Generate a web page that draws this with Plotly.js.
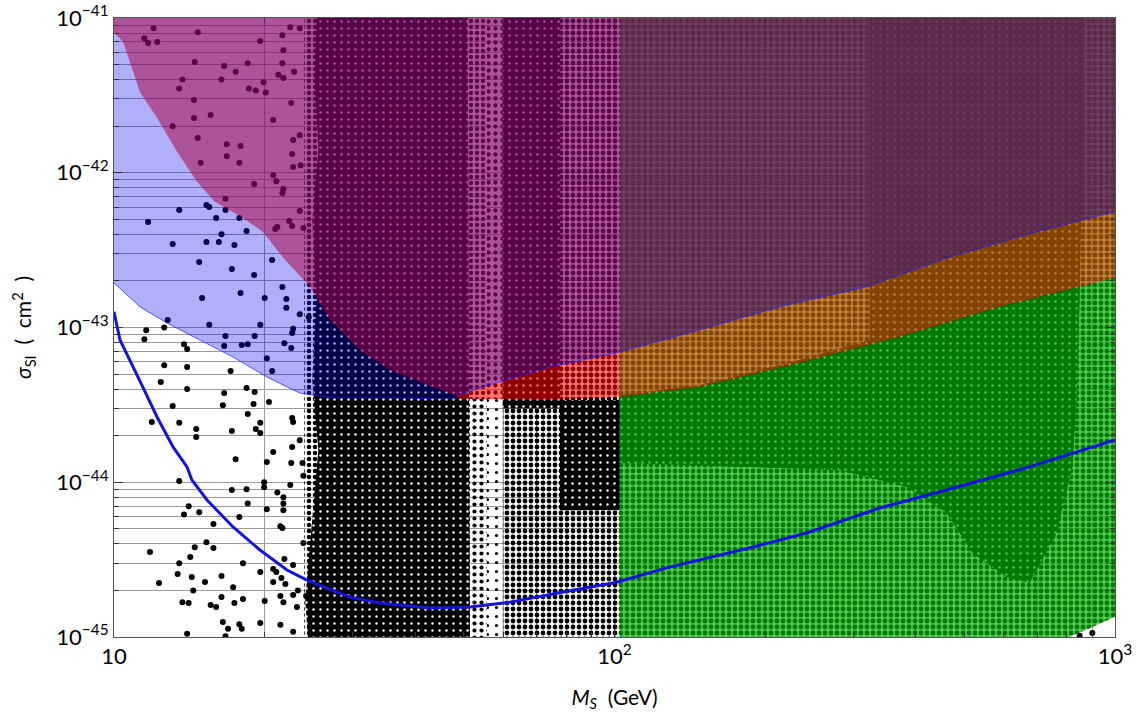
<!DOCTYPE html>
<html>
<head>
<meta charset="utf-8">
<script src="https://cdn.plot.ly/plotly-3.0.1.min.js"></script>
<style>
  html, body { margin: 0; padding: 0; background: #ffffff; }
  #chart { width: 1136px; height: 712px; }
</style>
</head>
<body>
<div id="chart"></div>
<script>
// Scalar singlet dark matter: spin-independent cross-section vs mass.

// ---- axis ticks ----
const massTicks = [10, 100, 1000];
const massTickText = ['10', '10<sup>2</sup>', '10<sup>3</sup>'];
const sigmaTicks = [1e-45, 1e-44, 1e-43, 1e-42, 1e-41];
const sigmaTickText = ['10<sup>\u221245</sup>', '10<sup>\u221244</sup>', '10<sup>\u221243</sup>', '10<sup>\u221242</sup>', '10<sup>\u221241</sup>'];
const minorDigits = [2, 3, 4, 5, 6, 7, 8, 9];

// ---- projected sensitivity curve (blue line) ----
const curveMass = [10, 10.28, 11.42, 12.19, 13.12, 13.99, 14.31, 15.34, 17.29, 19.57, 22.16, 24.29, 26.63, 29.6, 33.98, 42.76, 51.4, 61.8, 76.7, 101, 128.8, 186, 242, 339, 461, 675, 1000];
const curveSigma = [1.265e-43, 8.3e-44, 4.12e-44, 2.64e-44, 1.69e-44, 1.256e-44, 1.035e-44, 7.68e-45, 5.14e-45, 3.65e-45, 2.71e-45, 2.33e-45, 2.07e-45, 1.81e-45, 1.66e-45, 1.54e-45, 1.56e-45, 1.68e-45, 1.92e-45, 2.26e-45, 2.83e-45, 3.76e-45, 4.70e-45, 6.82e-45, 8.91e-45, 1.256e-44, 1.875e-44];

// ---- upper exclusion boundary (magenta region lies above it) ----
const upperMass = [10, 10.42, 11.27, 12.19, 13.37, 14.65, 15.91, 18.10, 19.83, 21.78, 24.66, 27.0, 31.0, 35.6, 41.4, 48.4, 54.6, 63.8, 74.3, 86.4, 102.4, 148.0, 213.8, 319, 467, 684, 1000];
const upperSigma = [8.1e-42, 7.0e-42, 3.3e-42, 2.26e-42, 1.36e-42, 8.7e-43, 6.46e-43, 5.1e-43, 4.14e-43, 2.81e-43, 1.83e-43, 1.12e-43, 7.14e-44, 5.31e-44, 4.37e-44, 3.61e-44, 4.12e-44, 4.79e-44, 5.55e-44, 6.16e-44, 6.94e-44, 9.63e-44, 1.36e-43, 1.83e-43, 2.85e-43, 4.08e-43, 5.6e-43];

// ---- lower exclusion boundary (blue / red bands lie above it) ----
const lowerMass = [10, 11.27, 12.75, 14.85, 17.3, 20.2, 23.5, 27.4, 37.2, 48.4, 74.3, 102.4, 148, 234.4, 371, 588, 1000];
const lowerSigma = [1.94e-43, 1.36e-43, 1.07e-43, 8.29e-44, 6.44e-44, 4.79e-44, 3.77e-44, 3.5e-44, 3.5e-44, 3.45e-44, 3.4e-44, 3.55e-44, 4.12e-44, 5.89e-44, 8.67e-44, 1.36e-43, 2.09e-43];
// indices where the boundaries touch (48.4 GeV) and where the heavy column starts (102.4 GeV)
const upperMeet = 15, lowerMeet = 9;
const upperSplit = 20, lowerSplit = 11;

// ---- corner of the heavy column left uncovered (bottom right) ----
const cornerMass = [1000, 811];
const cornerSigma = [1.35e-45, 1e-45];
const columnMass = 102.4;

// ---- scan point clouds: outlines of the densely populated areas ----
const cloudA_M = [25.4, 50.9, 51.4, 24.4, 24.1, 24.9, 25.6, 24.9, 25.4, 24.9, 25.6, 25.2];
const cloudA_S = [1e-41, 1e-41, 1e-45, 1e-45, 1.73e-45, 5.7e-45, 1.62e-44, 4.58e-44, 1.51e-43, 4.95e-43, 1.40e-42, 3.97e-42];
const cloudB_M = [59.8, 77.8, 77.8, 102.4, 102.4, 77.8, 77.8, 59.8];
const cloudB_S = [1e-41, 1e-41, 3.4e-44, 3.4e-44, 6.6e-45, 6.6e-45, 3.0e-44, 3.0e-44];
const cloudC_M = [323, 869, 850, 838, 822, 764, 675, 607, 519, 461, 383, 282, 102.4, 102.4, 148, 234, 323];
const cloudC_S = [1e-41, 1e-41, 1.51e-43, 3.4e-44, 1.25e-44, 4.69e-45, 2.23e-45, 2.44e-45, 3.49e-45, 6.33e-45, 9.31e-45, 1.2e-44, 1.33e-44, 3.66e-44, 4.25e-44, 6.16e-44, 8.29e-44];
// moderately populated areas
const haloA_M = [24.0, 51.4, 51.4, 24.0];
const haloA_S = [1e-41, 1e-41, 1e-45, 1e-45];
const sideA_M = [51.4, 55.6, 55.6, 51.4];
const gapM = [55.6, 59.8, 59.8, 55.6];
const upperBandS = [1e-41, 1e-41, 3.45e-44, 3.45e-44];
const lowerBandS = [3.45e-44, 3.45e-44, 1e-45, 1e-45];
const haloB_M = [59.8, 102.4, 102.4, 59.8];
const haloB_S = [1e-41, 1e-41, 1e-45, 1e-45];
const haloC_M = [102.4, 1000, 1000, 811, 102.4];
const haloC_S = [1e-41, 1e-41, 1.35e-45, 1e-45, 1e-45];

// ---- isolated scan points (light-mass side) ----
const pointMass = [12.0, 11.5, 11.7, 12.2, 14.7, 19.6, 21.7, 22.5, 23.5, 21.8, 14.5, 16.6, 17.5, 18.5, 21.7, 21.3, 21.8, 22.9, 13.7, 13.5,
  16.4, 18.6, 19.2, 20.1, 19.9, 14.45, 14.45, 15.6, 13.1, 14.7, 16.8, 17.9, 16.8, 17.8, 14.9, 20.8, 22.6, 22.8, 23.5, 22.7,
  22.8, 23.6, 20.8, 21.1, 19.05, 21.8, 21.7, 16.7, 23.5, 22.4, 22.7, 21.2, 21.0, 23.9, 13.5, 15.3, 15.5, 16.7, 11.7, 16.0,
  17.8, 16.4, 18.4, 13.1, 14.8, 15.3, 16.2, 17.4, 17.2, 19.05, 20.7, 21.7, 20.0, 17.9, 15.0, 22.1, 22.1, 23.5, 24.5, 12.8,
  15.5, 19.6, 12.6, 11.6, 11.5, 19.1, 16.7, 16.6, 18.0, 18.5, 13.8, 14.0, 22.8, 22.7, 21.9, 22.6, 20.2, 20.7, 17.1, 12.6,
  14.0, 12.4, 14.0, 16.6, 18.4, 19.1, 20.4, 19.0, 16.5, 13.1, 18.5, 11.9, 13.5, 14.6, 14.6, 17.2, 19.2, 19.6, 19.6, 22.7,
  22.8, 20.8, 17.5, 20.2, 22.7, 23.5, 22.6, 23.8, 23.9, 13.5, 17.2, 18.4, 19.95, 19.95, 22.5, 21.2, 21.8, 21.8, 21.8, 18.5,
  20.2, 14.1, 13.8, 14.8, 17.8, 15.8, 21.5, 21.7, 23.9, 15.3, 14.5, 15.8, 11.8, 14.2, 13.5, 18.1, 21.9, 22.8, 19.6, 20.8,
  21.1, 21.6, 13.4, 14.3, 15.2, 16.4, 12.3, 17.3, 20.8, 22.0, 14.4, 23.3, 21.5, 22.8, 24.2, 16.4, 13.7, 14.1, 15.6, 16.0,
  17.4, 18.1, 20.0, 21.8, 23.2, 16.5, 16.9, 17.8, 18.0, 19.6, 21.5, 22.8, 14.0, 16.7, 850, 901];
const pointSigma = [8.6e-42, 7.4e-42, 6.9e-42, 7.0e-42, 8.1e-42, 7.1e-42, 7.75e-42, 8.7e-42, 8.6e-42, 6.2e-42, 5.2e-42, 4.9e-42, 4.5e-42, 5.1e-42, 5.1e-42, 4.3e-42, 4.1e-42, 4.5e-42, 4.0e-42, 3.5e-42,
  4.0e-42, 3.5e-42, 3.4e-42, 3.3e-42, 3.85e-42, 2.95e-42, 2.26e-42, 2.36e-42, 2.0e-42, 1.68e-42, 1.53e-42, 1.49e-42, 1.28e-42, 1.16e-42, 1.16e-42, 2.19e-42, 2.82e-42, 1.63e-42, 1.75e-42, 1.32e-42,
  1.09e-42, 1.12e-42, 9.65e-43, 8.8e-43, 8.45e-43, 7.85e-43, 7.4e-43, 6.8e-43, 5.66e-43, 4.87e-43, 4.53e-43, 4.46e-43, 4.33e-43, 4.39e-43, 5.74e-43, 6.2e-43, 6.0e-43, 5.74e-43, 4.8e-43, 5.1e-43,
  5.1e-43, 4.0e-43, 4.2e-43, 3.46e-43, 2.65e-43, 3.57e-43, 3.57e-43, 3.41e-43, 2.39e-43, 2.18e-43, 2.73e-43, 1.83e-43, 1.55e-43, 1.67e-43, 1.55e-43, 1.53e-43, 1.34e-43, 1.22e-43, 1.17e-43, 1.12e-43,
  1.04e-43, 1.04e-43, 1.0e-43, 9.6e-44, 8.4e-44, 8.8e-44, 8.8e-44, 7.6e-44, 7.7e-44, 7.8e-44, 7.8e-44, 7.25e-44, 9.8e-44, 9.2e-44, 7.9e-44, 7.36e-44, 6.34e-44, 5.23e-44, 5.23e-44, 5.7e-44,
  5.55e-44, 4.44e-44, 4.0e-44, 3.77e-44, 4.06e-44, 3.83e-44, 3.3e-44, 3.2e-44, 3.15e-44, 3.11e-44, 2.76e-44, 2.45e-44, 2.42e-44, 2.21e-44, 1.96e-44, 2.14e-44, 2.21e-44, 2.08e-44, 2.42e-44, 2.6e-44,
  2.45e-44, 1.57e-44, 1.41e-44, 1.35e-44, 1.69e-44, 1.87e-44, 1.33e-44, 1.33e-44, 1.10e-44, 1.02e-44, 8.9e-45, 9.0e-45, 1.0e-44, 9.3e-45, 9.6e-45, 8.6e-45, 8.0e-45, 7.3e-45, 6.6e-45, 7.3e-45,
  6.7e-45, 7.0e-45, 6.2e-45, 6.4e-45, 5.96e-45, 5.37e-45, 5.2e-45, 5.06e-45, 4.05e-45, 4.1e-45, 3.8e-45, 3.76e-45, 3.54e-45, 3.29e-45, 3.0e-45, 3.0e-45, 3.19e-45, 2.92e-45, 2.63e-45, 2.75e-45,
  2.63e-45, 2.41e-45, 2.55e-45, 2.44e-45, 2.27e-45, 2.48e-45, 2.23e-45, 2.1e-45, 2.27e-45, 2.2e-45, 2.0e-45, 2.0e-45, 1.84e-45, 1.87e-45, 1.84e-45, 1.81e-45, 1.68e-45, 1.66e-45, 1.61e-45, 1.56e-45,
  1.66e-45, 1.76e-45, 1.71e-45, 1.68e-45, 1.56e-45, 1.25e-45, 1.13e-45, 1.21e-45, 1.13e-45, 1.23e-45, 1.2e-45, 1.08e-45, 1.05e-45, 1.01e-45, 1.02e-45, 1.06e-45];

// ---- styling ----
const FONT = 'Lato, "Open Sans", "DejaVu Sans", sans-serif';
const clearFill = 'rgba(0,0,0,0)';

function region(xs, ys, opts) {
  return Object.assign({
    type: 'scatter', mode: 'lines',
    x: xs.concat([xs[0]]), y: ys.concat([ys[0]]),
    fill: 'toself', line: { width: 0, color: clearFill },
    hoverinfo: 'skip', showlegend: false
  }, opts);
}
function speckle(size, solidity) {
  return { fillcolor: clearFill, fillpattern: { shape: '.', size: size, solidity: solidity, fgcolor: '#000000', bgcolor: clearFill, fillmode: 'replace' } };
}
const denseStyle = { fillcolor: '#000000', fillpattern: { shape: '.', size: 7, solidity: 0.1, fgcolor: '#ffffff', bgcolor: '#000000', fillmode: 'replace' } };
function edge(xs, ys) {
  return { type: 'scatter', mode: 'lines', x: xs, y: ys, line: { color: 'rgba(40,40,255,0.75)', width: 1 }, hoverinfo: 'skip', showlegend: false };
}

// minor tick positions
const minorMass = [];
[10, 100].forEach(d => minorDigits.forEach(k => minorMass.push(k * d)));
const minorSigma = [];
[1e-45, 1e-44, 1e-43, 1e-42].forEach(d => minorDigits.forEach(k => minorSigma.push(k * d)));

// polygons for the coloured bands
const rev = a => a.slice().reverse();
const blueX = lowerMass.slice(0, lowerMeet + 1).concat(rev(upperMass.slice(0, upperMeet + 1)));
const blueY = lowerSigma.slice(0, lowerMeet + 1).concat(rev(upperSigma.slice(0, upperMeet + 1)));
const redX = lowerMass.slice(lowerMeet, lowerSplit + 1).concat(rev(upperMass.slice(upperMeet, upperSplit + 1)));
const redY = lowerSigma.slice(lowerMeet, lowerSplit + 1).concat(rev(upperSigma.slice(upperMeet, upperSplit + 1)));
const magX = upperMass.slice(0, upperSplit + 1).concat([columnMass, 10]);
const magY = upperSigma.slice(0, upperSplit + 1).concat([1e-41, 1e-41]);
const plumX = upperMass.slice(upperSplit).concat([1000, columnMass]);
const plumY = upperSigma.slice(upperSplit).concat([1e-41, 1e-41]);
const orangeX = lowerMass.slice(lowerSplit).concat(rev(upperMass.slice(upperSplit)));
const orangeY = lowerSigma.slice(lowerSplit).concat(rev(upperSigma.slice(upperSplit)));
const greenX = lowerMass.slice(lowerSplit).concat(cornerMass, [columnMass]);
const greenY = lowerSigma.slice(lowerSplit).concat(cornerSigma, [1e-45]);

const traces = [
  // moderately populated areas
  region(haloA_M, haloA_S, speckle(6, 0.45)),
  region(sideA_M, upperBandS, speckle(6, 0.4)),
  region(sideA_M, lowerBandS, speckle(7, 0.28)),
  region(gapM, upperBandS, speckle(7, 0.3)),
  region(gapM, lowerBandS, speckle(9, 0.1)),
  region(haloB_M, haloB_S, speckle(6, 0.5)),
  region(haloC_M, haloC_S, speckle(6, 0.5)),
  // densely populated areas
  region(cloudA_M, cloudA_S, denseStyle),
  region(cloudB_M, cloudB_S, denseStyle),
  region(cloudC_M, cloudC_S, denseStyle),
  // isolated points
  { type: 'scatter', mode: 'markers', x: pointMass, y: pointSigma,
    marker: { color: '#000000', size: 6, line: { width: 0 } }, hoverinfo: 'skip', showlegend: false },
  // translucent bands
  region(blueX, blueY, { fillcolor: 'rgba(0,0,240,0.31)' }),
  region(redX, redY, { fillcolor: 'rgba(255,0,0,0.56)' }),
  region(magX, magY, { fillcolor: 'rgba(133,0,104,0.675)' }),
  region(greenX, greenY, { fillcolor: 'rgba(0,175,0,0.69)' }),
  region(orangeX, orangeY, { fillcolor: 'rgba(171,88,0,0.77)' }),
  region(plumX, plumY, { fillcolor: 'rgba(99,45,80,0.925)' }),
  // thin edges of the bands
  edge(lowerMass.slice(0, lowerMeet + 1), lowerSigma.slice(0, lowerMeet + 1)),
  edge(upperMass.slice(upperMeet), upperSigma.slice(upperMeet)),
  // sensitivity curve
  { type: 'scatter', mode: 'lines', x: curveMass, y: curveSigma,
    line: { color: '#1414dc', width: 3 }, hoverinfo: 'skip', showlegend: false }
];

const axisCommon = {
  type: 'log', showline: true, linecolor: '#555555', linewidth: 1, mirror: 'ticks',
  ticks: 'inside', ticklen: 9, tickcolor: '#333333', tickwidth: 1,
  showgrid: true, gridcolor: '#9a9a9a', gridwidth: 1, zeroline: false,
  tickfont: { family: FONT, size: 22, color: '#000000' }
};

const layout = {
  width: 1136, height: 712,
  margin: { l: 114, r: 21, t: 18, b: 75 },
  paper_bgcolor: '#ffffff', plot_bgcolor: '#ffffff',
  showlegend: false,
  xaxis: Object.assign({}, axisCommon, {
    range: [1, 3], tickmode: 'array', tickvals: massTicks, ticktext: massTickText,
    minor: { tickmode: 'array', tickvals: minorMass, ticks: 'inside', ticklen: 5, tickcolor: '#333333', showgrid: true, gridcolor: '#9a9a9a', gridwidth: 1 },
    title: { text: '<i>M</i><sub><i>S</i></sub>\u00a0\u00a0(GeV)', font: { family: FONT, size: 21, color: '#000000' }, standoff: 24 }
  }),
  yaxis: Object.assign({}, axisCommon, {
    range: [-45, -41], tickmode: 'array', tickvals: sigmaTicks, ticktext: sigmaTickText,
    minor: { tickmode: 'array', tickvals: minorSigma, ticks: 'inside', ticklen: 5, tickcolor: '#333333', showgrid: true, gridcolor: '#9a9a9a', gridwidth: 1 },
    title: { text: '<i>\u03c3</i><sub>SI</sub>\u00a0\u00a0(\u00a0\u00a0cm<sup>2</sup>\u00a0\u00a0)', font: { family: FONT, size: 21, color: '#000000' }, standoff: 18 }
  })
};

Plotly.newPlot('chart', traces, layout, { staticPlot: true, displayModeBar: false });
</script>
</body>
</html>
